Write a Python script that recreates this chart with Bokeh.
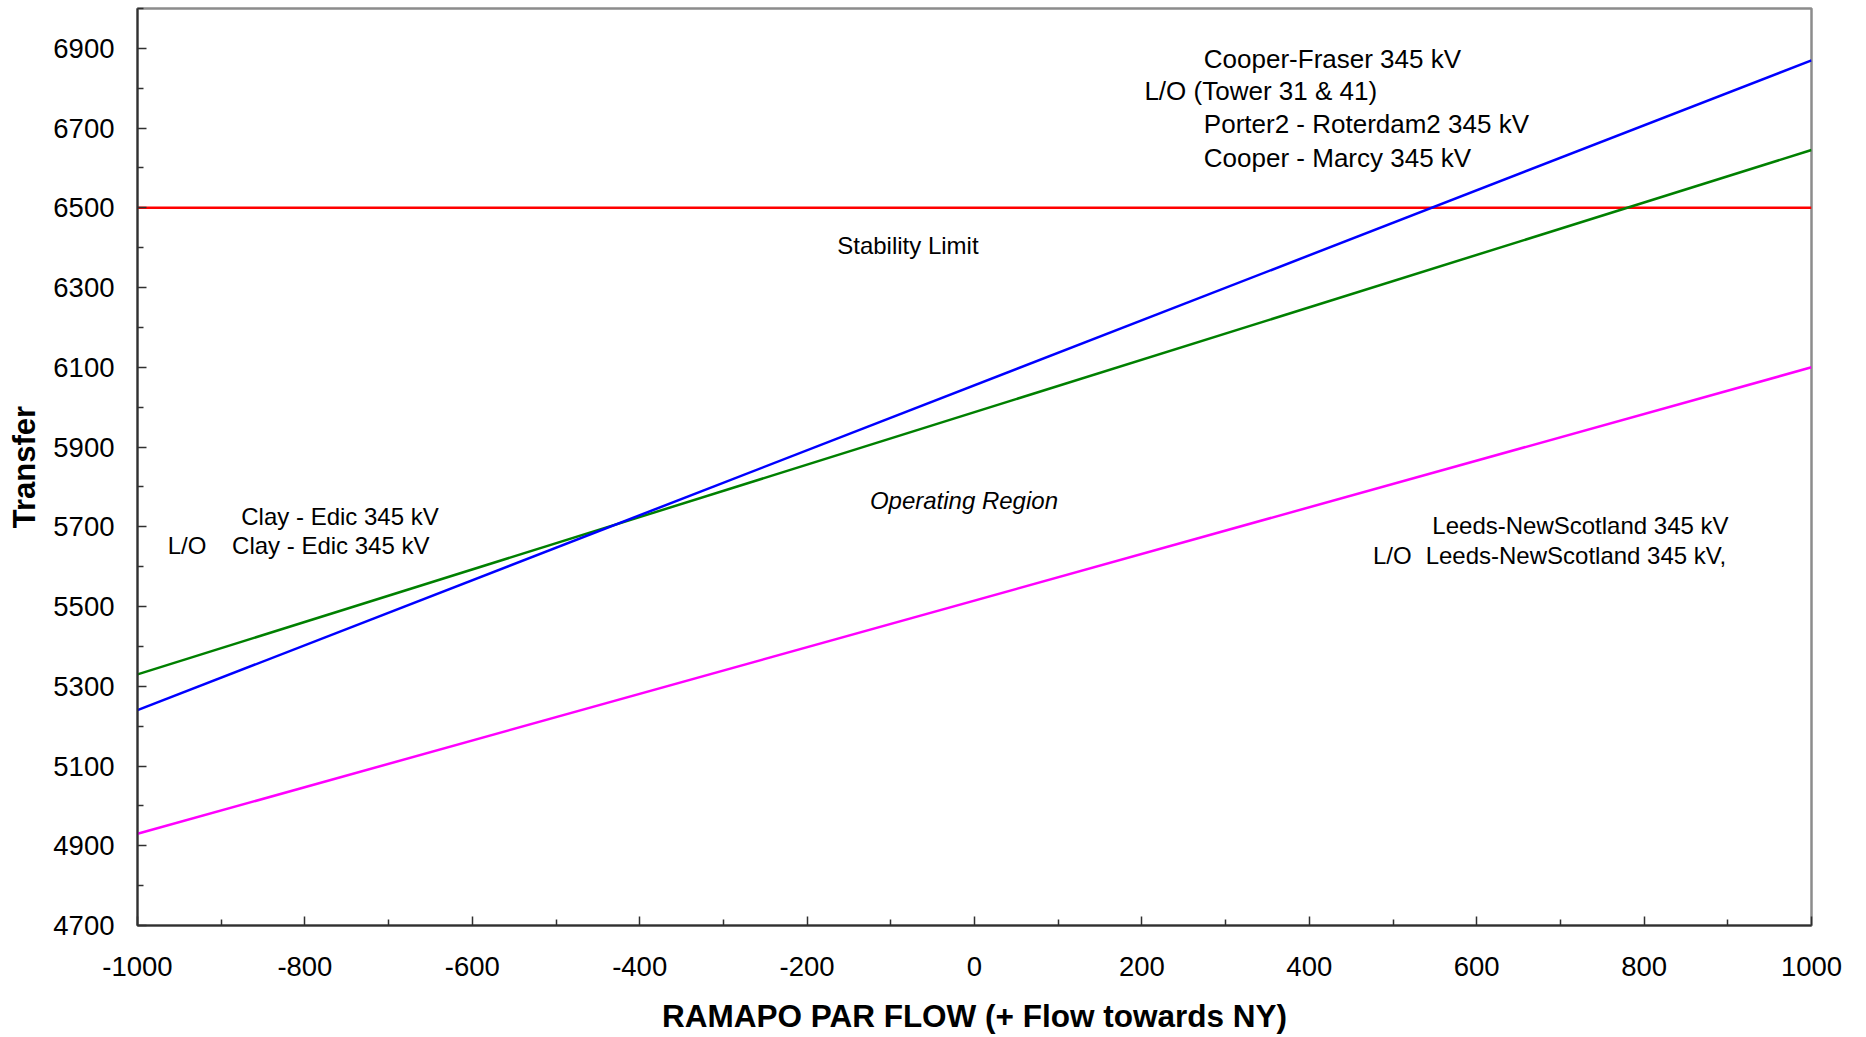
from bokeh.plotting import figure
from bokeh.models import Range1d, FixedTicker
from bokeh.core.properties import value
from bokeh.embed import file_html
from bokeh.resources import INLINE

# RAMAPO PAR flow (MW) at the two ends of each limit line
flow = [-1000, 1000]

# transfer limits (MW) at those flows
cooper_fraser_limit = [5240, 6870]   # blue
clay_edic_limit = [5330, 6645]       # green
leeds_limit = [4930, 6100]           # magenta
stability_limit = [6500, 6500]       # red

x_major = list(range(-1000, 1001, 200))
x_minor = list(range(-900, 1000, 200))
y_major = list(range(4700, 6901, 200))
y_minor = list(range(4800, 7001, 200))

# annotation texts with their anchor points (flow, transfer)
notes_big = ["Cooper-Fraser 345 kV", "L/O (Tower 31 & 41)",
             "Porter2 - Roterdam2 345 kV", "Cooper - Marcy 345 kV"]
notes_big_x = [274, 203, 274, 274]
notes_big_y = [6873, 6792, 6710, 6624]

notes = ["Stability Limit", "Clay - Edic 345 kV", "L/O", "Clay - Edic 345 kV",
         "Leeds-NewScotland 345 kV", "L/O", "Leeds-NewScotland 345 kV,"]
notes_x = [-164, -876, -964, -887, 547, 476, 539]
notes_y = [6405, 5727, 5653, 5653, 5703, 5629, 5629]

region_note = ["Operating Region"]
region_x = [-125]
region_y = [5765]

FONT = "Liberation Sans"

p = figure(frame_width=1674, frame_height=917,
           x_range=Range1d(-1000, 1000), y_range=Range1d(4700, 7000),
           output_backend="svg", toolbar_location=None,
           min_border_left=137, min_border_right=55,
           min_border_top=8, min_border_bottom=110)
p.background_fill_color = "white"
p.border_fill_color = "white"
p.outline_line_color = "#8c8c8c"
p.outline_line_width = 2.5
p.xgrid.visible = False
p.ygrid.visible = False

for lim, col in [(stability_limit, "#ff0000"),
                 (clay_edic_limit, "#008000"),
                 (cooper_fraser_limit, "#0000ff"),
                 (leeds_limit, "#ff00ff")]:
    p.line(flow, lim, line_color=col, line_width=2.5)

p.text(x=notes_big_x, y=notes_big_y, text=notes_big,
       text_font=value(FONT), text_font_size="26px", text_color="black",
       text_align="left", text_baseline="middle")
p.text(x=notes_x, y=notes_y, text=notes,
       text_font=value(FONT), text_font_size="24px", text_color="black",
       text_align="left", text_baseline="middle")
p.text(x=region_x, y=region_y, text=region_note,
       text_font=value(FONT), text_font_size="24px", text_font_style="italic",
       text_color="black", text_align="left", text_baseline="middle")

p.xaxis.ticker = FixedTicker(ticks=x_major, minor_ticks=x_minor)
p.yaxis.ticker = FixedTicker(ticks=y_major, minor_ticks=y_minor)
# plain hyphen for negative flows
p.xaxis.major_label_overrides = {v: str(v) for v in x_major}

for ax in (p.xaxis[0], p.yaxis[0]):
    ax.axis_line_color = "#303030"
    ax.axis_line_width = 2
    ax.major_tick_line_color = "#303030"
    ax.minor_tick_line_color = "#303030"
    ax.major_tick_line_width = 1.5
    ax.minor_tick_line_width = 1.5
    ax.major_tick_in = 9
    ax.major_tick_out = 0
    ax.minor_tick_in = 6
    ax.minor_tick_out = 0
    ax.major_label_text_font = FONT
    ax.major_label_text_font_size = "27.5px"
    ax.major_label_text_color = "black"
    ax.axis_label_text_font = FONT
    ax.axis_label_text_font_size = "31.5px"
    ax.axis_label_text_font_style = "bold"
    ax.axis_label_text_color = "black"

p.yaxis.axis_label_text_font_size = "31px"
p.xaxis.axis_label = "RAMAPO PAR FLOW (+ Flow towards NY)"
p.yaxis.axis_label = "Transfer"
p.xaxis.major_label_standoff = 31
p.xaxis.axis_label_standoff = 19
p.yaxis.major_label_standoff = 23
p.yaxis.axis_label_standoff = 8

open("out.html", "w").write(file_html(p, INLINE))
